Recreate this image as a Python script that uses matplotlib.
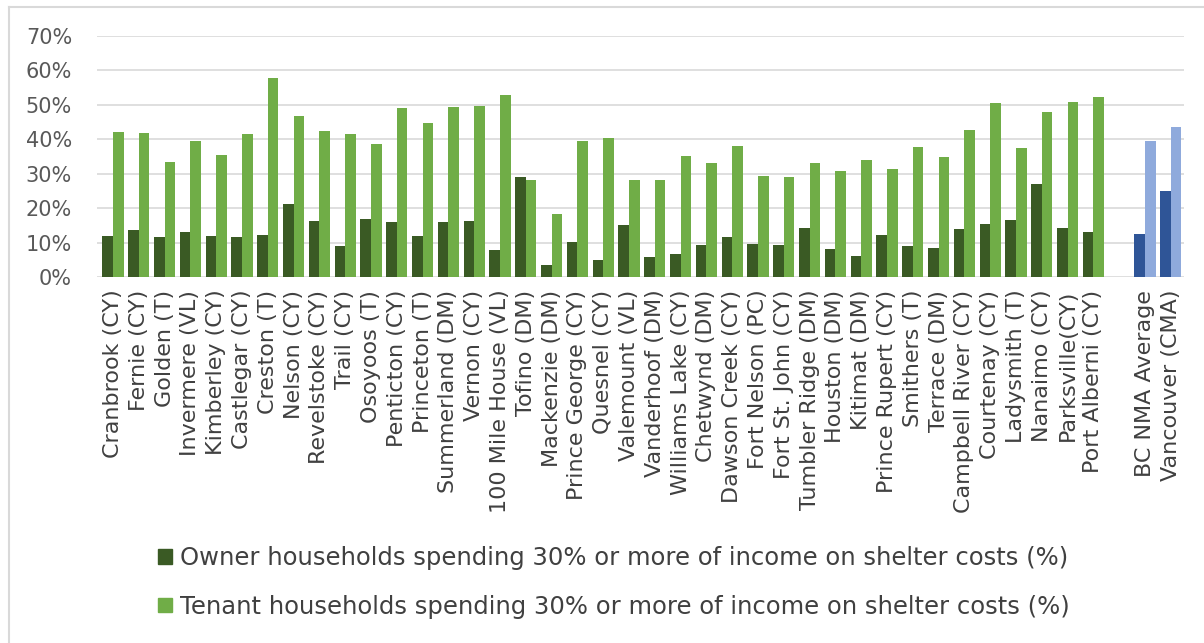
import numpy as np
import matplotlib.pyplot as plt
from matplotlib.patches import Patch
from matplotlib.lines import Line2D

plt.rcParams['font.family'] = ['DejaVu Sans']

places = ['Cranbrook (CY)', 'Fernie (CY)', 'Golden (T)', 'Invermere (VL)', 'Kimberley (CY)',
          'Castlegar (CY)', 'Creston (T)', 'Nelson (CY)', 'Revelstoke (CY)', 'Trail (CY)',
          'Osoyoos (T)', 'Penticton (CY)', 'Princeton (T)', 'Summerland (DM)', 'Vernon (CY)',
          '100 Mile House (VL)', 'Tofino (DM)', 'Mackenzie (DM)', 'Prince George (CY)',
          'Quesnel (CY)', 'Valemount (VL)', 'Vanderhoof (DM)', 'Williams Lake (CY)',
          'Chetwynd (DM)', 'Dawson Creek (CY)', 'Fort Nelson (PC)', 'Fort St. John (CY)',
          'Tumbler Ridge (DM)', 'Houston (DM)', 'Kitimat (DM)', 'Prince Rupert (CY)',
          'Smithers (T)', 'Terrace (DM)', 'Campbell River (CY)', 'Courtenay (CY)',
          'Ladysmith (T)', 'Nanaimo (CY)', 'Parksville(CY)', 'Port Alberni (CY)']
owner = [12.0, 13.7, 11.6, 13.0, 11.9, 11.6, 12.1, 21.2, 16.4, 9.1,
         16.9, 16.1, 12.0, 16.1, 16.4, 7.8, 29.2, 3.6, 10.2, 4.9,
         15.0, 5.8, 6.8, 9.3, 11.7, 9.7, 9.2, 14.4, 8.1, 6.2,
         12.3, 8.9, 8.4, 13.9, 15.4, 16.6, 27.0, 14.2, 13.0]
tenant = [42.2, 41.7, 33.5, 39.6, 35.5, 41.5, 57.7, 46.9, 42.3, 41.6,
          38.7, 49.2, 44.8, 49.5, 49.8, 53.0, 28.3, 18.3, 39.5, 40.5,
          28.3, 28.3, 35.2, 33.2, 38.2, 29.5, 29.2, 33.2, 30.7, 34.1,
          31.4, 37.8, 35.0, 42.6, 50.6, 37.6, 48.0, 50.8, 52.3]

ref_places = ['BC NMA Average', 'Vancouver (CMA)']
ref_owner = [12.5, 25.1]
ref_tenant = [39.5, 43.5]

c_own, c_ten = '#3a5a24', '#70ad47'
c_rown, c_rten = '#2f5597', '#8faadc'

fig = plt.figure(figsize=[12.04, 6.43], dpi=100)
ax = fig.add_axes([0.0806, 0.569, 0.903, 0.375])

x = np.arange(len(places))
xr = len(places) + 1 + np.arange(len(ref_places))
w = 0.41
ax.bar(x - w/2, owner, w, color=c_own)
ax.bar(x + w/2, tenant, w, color=c_ten)
ax.bar(xr - w/2, ref_owner, w, color=c_rown)
ax.bar(xr + w/2, ref_tenant, w, color=c_rten)

ax.set_xlim(-0.62, xr[-1] + 0.52)
ax.set_ylim(0, 70)
ax.set_yticks(np.arange(0, 71, 10))
ax.set_yticklabels([f'{v}%' for v in range(0, 71, 10)])
ax.set_xticks(list(x) + list(xr))
ax.set_xticklabels(places + ref_places, rotation=90)
ax.tick_params(axis='y', length=0, labelsize=15, colors='#595959', pad=18)
ax.tick_params(axis='x', length=0, labelsize=16, colors='#404040', pad=9)
ax.grid(axis='y', color='#d9d9d9', linewidth=1.2)
ax.set_axisbelow(True)
for s in ax.spines.values():
    s.set_visible(False)

handles = [Patch(color=c_own), Patch(color=c_ten)]
labels = ['Owner households spending 30% or more of income on shelter costs (%)',
          'Tenant households spending 30% or more of income on shelter costs (%)']
fig.legend(handles, labels, loc='center', bbox_to_anchor=(0.51, 0.094), frameon=False,
           fontsize=17.5, labelcolor='#404040', handlelength=0.55, handleheight=0.55,
           handletextpad=0.35, labelspacing=1.0)

# chart border (left and top)
fig.add_artist(Line2D([0.0075, 0.0075], [0, 0.989], color='#d9d9d9', lw=1.5))
fig.add_artist(Line2D([0.0075, 1], [0.989, 0.989], color='#d9d9d9', lw=1.5))

plt.savefig('out.png')
